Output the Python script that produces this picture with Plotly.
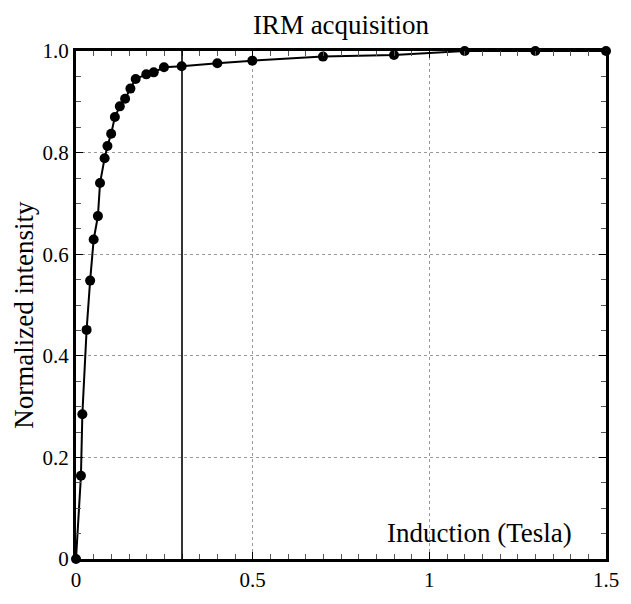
import plotly.graph_objects as go

# IRM acquisition data
induction = [0.0, 0.014, 0.018, 0.030, 0.040, 0.050, 0.062, 0.068, 0.081, 0.089,
             0.0995, 0.110, 0.124, 0.139, 0.154, 0.169, 0.199, 0.220, 0.249, 0.299,
             0.400, 0.499, 0.699, 0.900, 1.100, 1.300, 1.500]
intensity = [0.0, 0.164, 0.285, 0.451, 0.548, 0.629, 0.675, 0.740, 0.789, 0.813,
             0.837, 0.870, 0.891, 0.906, 0.926, 0.945, 0.954, 0.958, 0.968, 0.970,
             0.976, 0.981, 0.989, 0.992, 1.0, 1.0, 1.0]

vline_x = 0.3
x_tickvals = [0, 0.5, 1, 1.5]
x_ticktext = ["0", "0.5", "1", "1.5"]
y_tickvals = [0, 0.2, 0.4, 0.6, 0.8, 1.0]
y_ticktext = ["0", "0.2", "0.4", "0.6", "0.8", "1.0"]

FONT = "Times New Roman, Liberation Serif, serif"

fig = go.Figure()
fig.add_trace(go.Scatter(
    x=induction, y=intensity, mode="lines+markers",
    line=dict(color="black", width=2),
    marker=dict(color="black", size=10),
    cliponaxis=False, showlegend=False,
))

fig.add_shape(type="line", xref="x", yref="paper", x0=vline_x, x1=vline_x, y0=0, y1=1,
              line=dict(color="black", width=1.6), layer="above")

axis_common = dict(
    showline=True, linecolor="black", linewidth=3, mirror="ticks",
    ticks="inside", ticklen=7, tickwidth=1.2, tickcolor="black",
    showgrid=True, gridcolor="#999999", griddash="dot", gridwidth=1,
    zeroline=False,
    tickfont=dict(family=FONT, size=21, color="black"),
    minor=dict(ticks="inside", ticklen=5, tickwidth=1, tickcolor="#555555", dtick=0.05, showgrid=False),
)

fig.update_xaxes(range=[0, 1.5], tickmode="array", tickvals=x_tickvals, ticktext=x_ticktext,
                 **axis_common)
fig.update_yaxes(range=[0, 1.0], tickmode="array", tickvals=y_tickvals, ticktext=y_ticktext,
                 **axis_common)

fig.add_annotation(text="Induction (Tesla)", xref="x", yref="y", x=1.41, y=0.052,
                   xanchor="right", yanchor="middle", showarrow=False,
                   font=dict(family=FONT, size=27, color="black"))
fig.add_annotation(text="Normalized intensity", xref="paper", yref="paper",
                   x=-0.097, y=0.48, xanchor="center", yanchor="middle", textangle=-90,
                   showarrow=False, font=dict(family=FONT, size=27, color="black"))

fig.update_layout(
    width=631, height=604,
    margin=dict(l=76, r=12, t=51, b=27),
    paper_bgcolor="white", plot_bgcolor="white",
    font=dict(family=FONT, color="black"),
    title=dict(text="IRM acquisition", x=0.5, xref="paper", xanchor="center",
               y=1 - 25 / 604, yref="container", yanchor="middle",
               font=dict(family=FONT, size=27, color="black")),
)

fig.write_html("out.html")
